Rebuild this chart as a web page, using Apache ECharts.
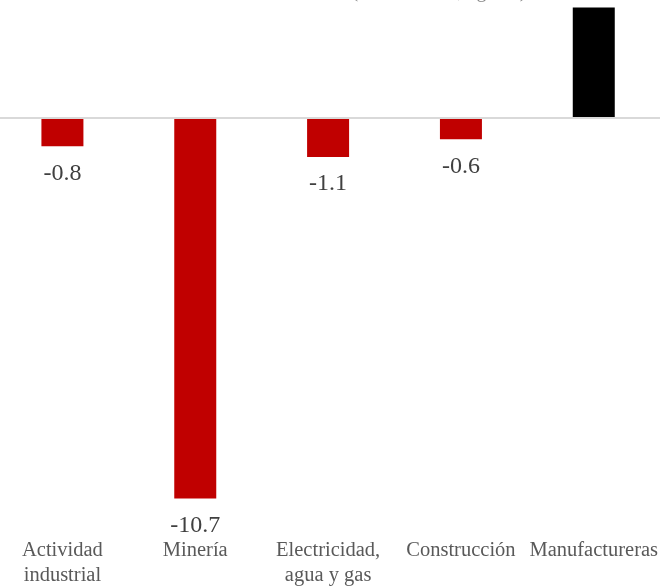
<!DOCTYPE html>
<html>
<head>
<meta charset="utf-8">
<script src="https://cdn.jsdelivr.net/npm/echarts@6/dist/echarts.min.js"></script>
<style>
  html, body { margin: 0; padding: 0; background: #ffffff; overflow: hidden; }
  #chart { width: 665px; height: 588px; margin-left: -4px; }
</style>
</head>
<body>
<div id="chart"></div>
<script>
// Sector names (category axis)
const categories = [
  'Actividad\nindustrial',
  'Minería',
  'Electricidad,\nagua y gas',
  'Construcción',
  'Manufactureras'
];
// Annual change, percent
const values = [-0.8, -10.7, -1.1, -0.6, 3.1];
// Bar colours per sector
const barColors = ['#c00000', '#c00000', '#c00000', '#c00000', '#000000'];
const subtitle = '(var. % anual, agosto)';

const serif = '"Liberation Serif", "DejaVu Serif", serif';

const chart = echarts.init(document.getElementById('chart'), null, { renderer: 'canvas' });

chart.setOption({
  animation: false,
  backgroundColor: '#ffffff',
  graphic: [{
    type: 'text',
    x: 443,
    y: 1.5,
    style: {
      text: subtitle,
      font: '20px ' + serif,
      fill: '#8a8a8a',
      textAlign: 'center',
      textVerticalAlign: 'bottom'
    }
  }],
  grid: { left: 0, right: 0, top: 0.5, height: 532, containLabel: false },
  xAxis: [
    {
      // zero line
      type: 'category',
      data: categories,
      axisLine: { onZero: true, lineStyle: { color: '#d9d9d9', width: 2 } },
      axisTick: { show: false },
      axisLabel: { show: false },
      splitLine: { show: false },
      z: 5
    },
    {
      // sector names along the bottom
      type: 'category',
      data: categories,
      position: 'bottom',
      axisLine: { show: false, onZero: false },
      axisTick: { show: false },
      axisLabel: {
        margin: 11,
        color: '#595959',
        fontFamily: serif,
        fontSize: 20.5,
        lineHeight: 25,
        interval: 0
      },
      splitLine: { show: false }
    }
  ],
  yAxis: {
    type: 'value',
    min: -11.5,
    max: 3.3,
    show: false,
    splitLine: { show: false }
  },
  series: [{
    type: 'bar',
    xAxisIndex: 0,
    barWidth: 42,
    data: values.map((v, i) => ({
      value: v,
      itemStyle: { color: barColors[i] },
      label: { position: v < 0 ? 'bottom' : 'top' }
    })),
    label: {
      show: true,
      distance: 15,
      color: '#404040',
      fontFamily: serif,
      fontSize: 24,
      formatter: p => p.value.toFixed(1)
    }
  }]
});
</script>
</body>
</html>
